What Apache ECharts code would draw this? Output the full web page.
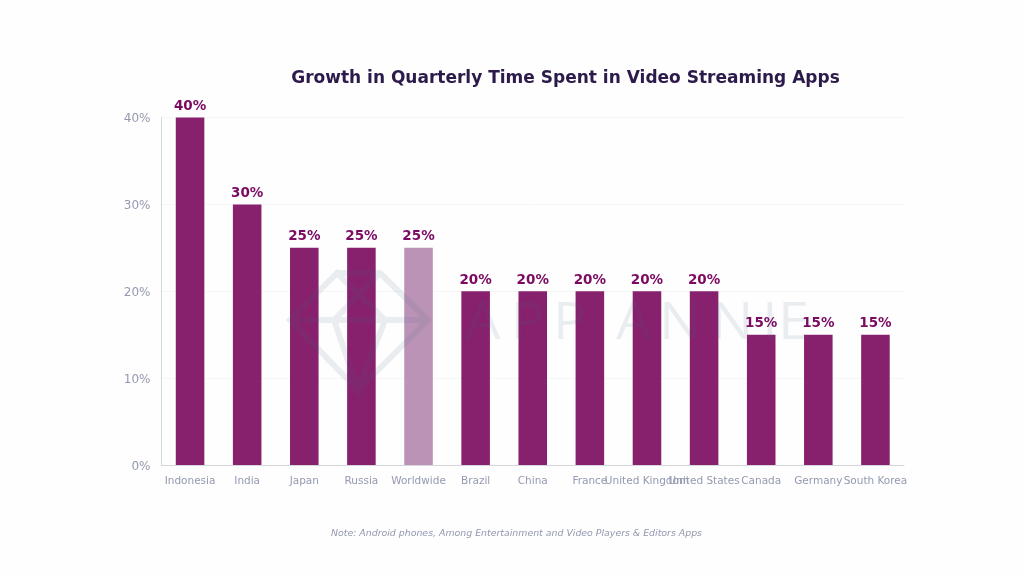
<!DOCTYPE html>
<html><head><meta charset="utf-8">
<style>html,body{margin:0;padding:0;background:#fefefe}#c{width:1024px;height:576px}</style>
<script src="https://cdn.jsdelivr.net/npm/echarts@6/dist/echarts.min.js"></script>
</head><body><div id="c"></div>
<script>
const categories = ['Indonesia','India','Japan','Russia','Worldwide','Brazil','China','France','United Kingdom','United States','Canada','Germany','South Korea'];
const growth = [40,30,25,25,25,20,20,20,20,20,15,15,15];
const highlighted = 'Worldwide';
const yTicks = {min:0,max:40,interval:10};
const wm = 'rgba(72,97,130,0.11)';
const letters = [['A',465],['P',511],['P',553],['A',616],['N',659],['N',711],['I',762],['E',778]];
const chart = echarts.init(document.getElementById('c'),null,{renderer:'canvas'});
chart.setOption({
  animation:false,
  backgroundColor:'#fefefe',
  title:[{text:'Growth in Quarterly Time Spent in Video Streaming Apps',left:560.5,top:65.5,textAlign:'center',
    textStyle:{fontFamily:'DejaVu Sans',fontSize:17,fontWeight:'bold',color:'#2b1a4a'}},
   {text:'Note: Android phones, Among Entertainment and Video Players & Editors Apps',left:511.5,top:524,textAlign:'center',
    textStyle:{fontFamily:'DejaVu Sans',fontSize:9.4,fontStyle:'italic',fontWeight:'normal',color:'#9297ae'}}],
  grid:{left:161.5,right:120,top:117.5,bottom:111},
  xAxis:{type:'category',data:categories,
    axisLine:{lineStyle:{color:'#d6d7dd'}},axisTick:{show:false},
    axisLabel:{interval:0,hideOverlap:false,margin:11,fontFamily:'DejaVu Sans',fontSize:10.5,color:'#9499b0'}},
  yAxis:{type:'value',...yTicks,
    axisLine:{show:true,lineStyle:{color:'#d6d7dd'}},axisTick:{show:false},
    splitLine:{lineStyle:{color:'#f5f6f6'}},
    axisLabel:{formatter:'{value}%',margin:11,fontFamily:'DejaVu Sans',fontSize:12,color:'#9499b0',verticalAlign:'top',lineHeight:3}},
  series:[{type:'bar',barWidth:'50%',
    data:growth.map((v,i)=>({value:v,itemStyle:{color:categories[i]===highlighted?'#ba93b6':'#87216e'}})),
    label:{show:true,position:'top',distance:4,formatter:'{c}%',fontFamily:'DejaVu Sans',fontSize:13.5,fontWeight:'bold',color:'#7a0a62'}}],
  graphic:[
    {type:'polyline',z:100,silent:true,
     shape:{points:[[337,273],[380,273],[428,320],[358,390],[290,320],[337,273],[385,320],[358,390],[334,320],[380,273],[334,320],[290,320],[428,320]]},
     style:{fill:null,stroke:wm,lineWidth:6,lineJoin:'miter'}},
    ...letters.map(([t,x])=>({type:'text',z:100,silent:true,x:x,y:324.5,scaleX:1.08,
      style:{text:t,x:0,y:0,fill:wm,font:'500 52px "Open Sans"',textVerticalAlign:'middle',textAlign:'left'}}))
  ]
});
</script></body></html>
